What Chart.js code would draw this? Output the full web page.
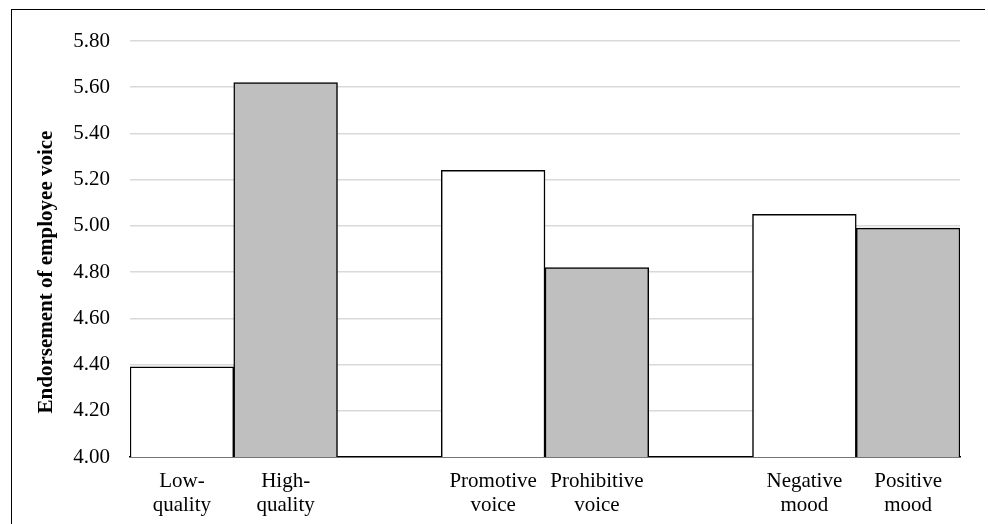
<!DOCTYPE html>
<html>
<head>
<meta charset="utf-8">
<script src="https://cdn.jsdelivr.net/npm/chart.js@4"></script>
<style>
  body { margin: 0; background: #fff; }
  #wrap { position: relative; width: 988px; height: 524px; }
  #frame {
    position: absolute; left: 11px; top: 9px; width: 973px; height: 530px;
    border-left: 1px solid #000; border-top: 1px solid #000; pointer-events: none;
  }
</style>
</head>
<body>
<div id="wrap">
  <canvas id="voiceChart"></canvas>
  <div id="frame"></div>
</div>
<script>
// categorias (las vacias son los huecos entre grupos)
const categories = [
  ["Low-", "quality"], ["High-", "quality"], "",
  ["Promotive", "voice"], ["Prohibitive", "voice"], "",
  ["Negative", "mood"], ["Positive", "mood"]
];
const endorsement = [4.39, 5.62, null, 5.24, 4.82, null, 5.05, 4.99];
const barColors = ["#ffffff", "#bfbfbf", "#ffffff", "#ffffff", "#bfbfbf", "#ffffff", "#ffffff", "#bfbfbf"];
const yTicks = [4.0, 4.2, 4.4, 4.6, 4.8, 5.0, 5.2, 5.4, 5.6, 5.8];
const yTitle = "Endorsement of employee voice";

const serif = "'Liberation Serif', 'Times New Roman', serif";

// titulo del eje Y, dibujado a mano (en el original no esta centrado)
const yTitlePlugin = {
  id: "yTitle",
  afterDraw(chart) {
    const c = chart.ctx;
    c.save();
    c.translate(52, 272);
    c.rotate(-Math.PI / 2);
    c.font = "bold 21px " + serif;
    c.fillStyle = "#000";
    c.textAlign = "center";
    c.textBaseline = "alphabetic";
    c.fillText(yTitle, 0, 0);
    c.restore();
  },
};

const ctx = document.getElementById("voiceChart").getContext("2d");
const voiceChart = new Chart(ctx, {
  type: "bar",
  data: {
    labels: categories,
    datasets: [
      {
        data: endorsement,
        backgroundColor: barColors,
        borderColor: "#000",
        borderWidth: 1.5,
        barPercentage: 1,
        categoryPercentage: 1,
      },
    ],
  },
  options: {
    responsive: true,
    maintainAspectRatio: false,
    animation: false,
    layout: { padding: { left: 0, right: 28, top: 41, bottom: 0 } },
    plugins: { legend: { display: false }, tooltip: { enabled: false } },
    scales: {
      x: {
        grid: { display: false, drawTicks: false },
        border: { display: true, color: "#000", width: 1.5 },
        ticks: {
          color: "#000",
          font: { family: serif, size: 21, lineHeight: 1.12 },
          padding: 13,
          maxRotation: 0,
          autoSkip: false,
        },
        afterFit: (scale) => { scale.height = 67; },
      },
      y: {
        min: yTicks[0],
        max: yTicks[yTicks.length - 1],
        afterBuildTicks: (scale) => {
          scale.ticks = yTicks.map((v) => ({ value: v }));
        },
        grid: { color: "#d9d9d9", lineWidth: 1.5, drawTicks: false },
        border: { display: false },
        ticks: {
          color: "#000",
          font: { family: serif, size: 21 },
          padding: 20,
          callback: (v) => Number(v).toFixed(2),
        },
        afterFit: (scale) => { scale.width = 130; },
      },
    },
  },
  plugins: [yTitlePlugin],
});
</script>
</body>
</html>
